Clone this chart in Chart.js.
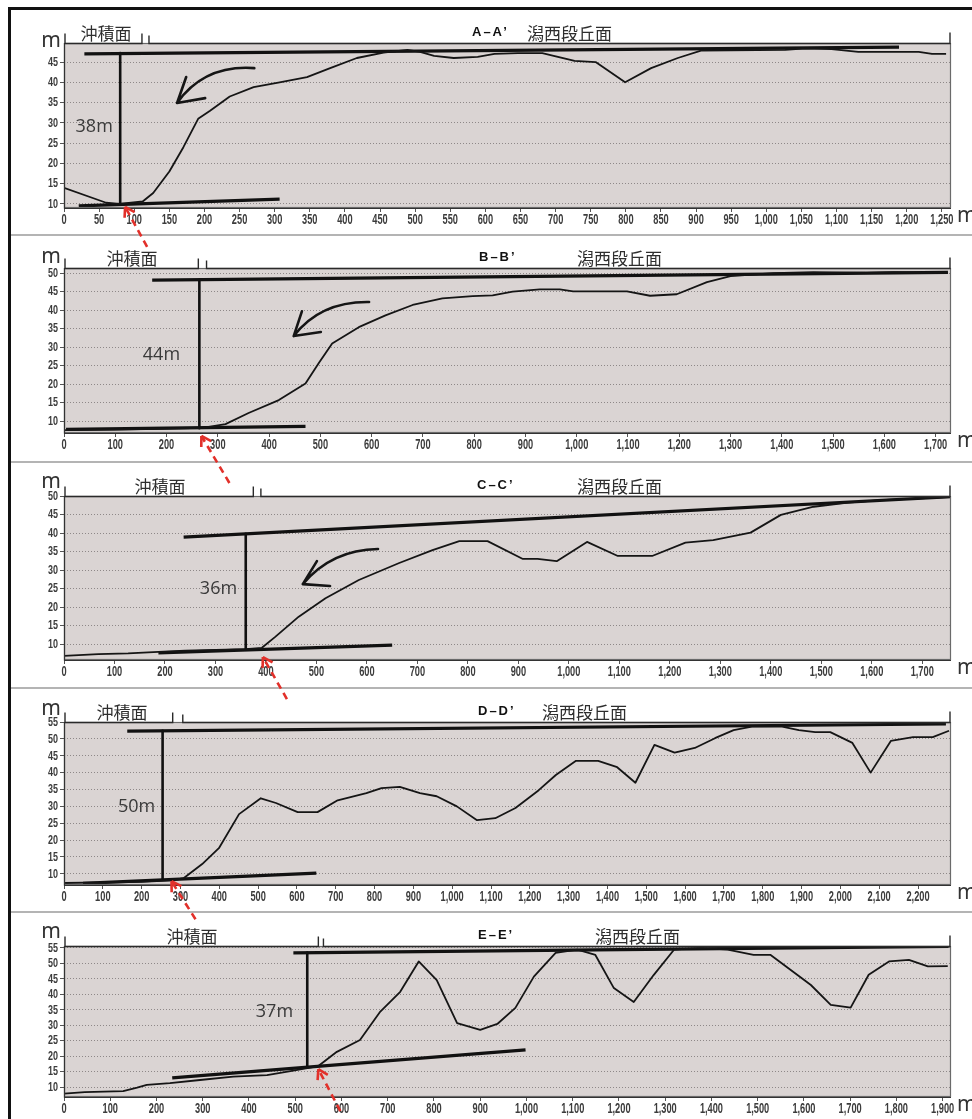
<!DOCTYPE html>
<html>
<head>
<meta charset="utf-8">
<script src="https://cdn.jsdelivr.net/npm/chart.js@4.4.1/dist/chart.umd.min.js"></script>
<style>
  body { margin: 0; background: #fff; }
  #fig { position: relative; width: 972px; height: 1119px; overflow: hidden; background: #fff; }
  .frame { position: absolute; left: 8px; top: 7px; width: 980px; height: 1130px; border-left: 3px solid #111; border-top: 3px solid #111; }
  .panel { position: absolute; left: 11px; }
  .sep { position: absolute; left: 11px; width: 961px; height: 2px; background: #b4b4b4; }
  #overlay { position: absolute; left: 0; top: 0; pointer-events: none; }
</style>
</head>
<body>
<div id="fig">
  <div class="frame"></div>
  <canvas class="panel" id="cA" width="961" height="224" style="top:10px"></canvas>
  <div class="sep" style="top:234px"></div>
  <canvas class="panel" id="cB" width="961" height="224" style="top:237px"></canvas>
  <div class="sep" style="top:461px"></div>
  <canvas class="panel" id="cC" width="961" height="223" style="top:464px"></canvas>
  <div class="sep" style="top:687px"></div>
  <canvas class="panel" id="cD" width="961" height="221" style="top:690px"></canvas>
  <div class="sep" style="top:911px"></div>
  <canvas class="panel" id="cE" width="961" height="205" style="top:914px"></canvas>
  <canvas id="overlay" width="972" height="1119"></canvas>
</div>
<script>
// 断面 A-A'
const aDist = [0, 60, 79, 112, 127, 150, 170, 191, 208, 236, 270, 307, 346, 379, 417, 455, 489, 507, 527, 555, 589, 613, 646, 681, 727, 757, 799, 836, 874, 907, 1027, 1056, 1093, 1131, 1217, 1236, 1256];
const aElev = [14, 10.3, 10, 10.6, 12.7, 18, 24, 31, 33, 36.5, 38.8, 40, 41.3, 43.5, 46, 47.3, 48, 47.5, 46.5, 46, 46.3, 47, 47.2, 47.2, 45.3, 45, 40, 43.5, 46, 47.8, 48, 48.4, 48.2, 47.5, 47.5, 47, 47];
const aTerraceX = [29, 1189], aTerraceY = [47, 48.7];
const aFloorX = [21, 307], aFloorY = [9.5, 11.2];
const aReliefX = [80, 80], aReliefY = [47.2, 10];

// 断面 B-B'
const bDist = [0, 100, 200, 270, 315, 360, 419, 471, 497, 523, 575, 627, 680, 738, 797, 836, 875, 928, 967, 993, 1098, 1143, 1195, 1254, 1300, 1384, 1462, 1567, 1618, 1724];
const bElev = [7.6, 7.7, 8, 8.2, 9.2, 12.2, 15.7, 20.2, 25.7, 31, 35.4, 38.6, 41.4, 43.2, 43.8, 44, 45, 45.6, 45.6, 45.1, 45.1, 43.9, 44.3, 47.6, 49.2, 50, 50.3, 50.1, 50.3, 50.1];
const bTerraceX = [172, 1724], bTerraceY = [48.1, 50.2];
const bFloorX = [4, 471], bFloorY = [7.8, 8.6];
const bReliefX = [264, 264], bReliefY = [48.2, 8.1];

// 断面 C-C'
const cDist = [0, 68, 127, 187, 240, 300, 360, 392, 419, 465, 518, 584, 664, 730, 783, 839, 909, 938, 976, 1036, 1097, 1165, 1231, 1286, 1360, 1420, 1485, 1553, 1618, 1751];
const cElev = [6.8, 7.3, 7.5, 7.9, 8.2, 8.4, 8.6, 9, 12, 17.4, 22.4, 27.3, 31.9, 35.4, 37.8, 37.8, 33, 33, 32.4, 37.6, 33.8, 33.8, 37.4, 38.1, 40.1, 44.9, 47.1, 48.2, 48.9, 49.7];
const cTerraceX = [237, 1757], cTerraceY = [38.9, 49.8];
const cFloorX = [187, 650], cFloorY = [7.6, 9.7];
const cReliefX = [360, 360], cReliefY = [39.8, 8.5];

// 断面 D-D'
const dDist = [0, 200, 278, 308, 356, 399, 451, 507, 546, 602, 653, 705, 779, 818, 865, 917, 960, 1012, 1064, 1111, 1163, 1223, 1267, 1319, 1376, 1425, 1472, 1521, 1573, 1625, 1677, 1725, 1772, 1850, 1893, 1935, 1974, 2031, 2078, 2130, 2187, 2238, 2280];
const dElev = [7.3, 7.6, 8.1, 8.7, 12.9, 17.6, 27.7, 32.4, 31, 28.3, 28.3, 31.8, 33.9, 35.4, 35.8, 33.9, 33, 30, 25.9, 26.5, 29.5, 34.8, 39.3, 43.5, 43.5, 41.6, 37, 48.2, 45.9, 47.3, 50.2, 52.6, 53.6, 53.6, 52.6, 52, 52, 48.8, 40, 49.4, 50.5, 50.5, 52.4];
const dTerraceX = [163, 2272], dTerraceY = [52.3, 54.4];
const dFloorX = [49, 650], dFloorY = [7.2, 10.2];
const dReliefX = [254, 254], dReliefY = [52.4, 8.4];

// 断面 E-E'
const eDist = [0, 45, 128, 158, 179, 229, 294, 366, 439, 496, 550, 590, 640, 684, 727, 767, 806, 850, 900, 937, 976, 1016, 1063, 1110, 1149, 1189, 1232, 1275, 1319, 1377, 1435, 1491, 1528, 1615, 1658, 1701, 1740, 1784, 1827, 1868, 1911];
const eElev = [7.9, 8.4, 8.7, 9.8, 10.7, 11.3, 12.3, 13.4, 13.9, 15.3, 16.8, 21.4, 25.2, 34.4, 40.8, 50.6, 44.6, 30.7, 28.5, 30.4, 35.6, 45.7, 53.4, 54.4, 52.7, 42, 37.5, 46.2, 54.4, 55, 54.4, 52.7, 52.7, 43, 36.6, 35.7, 46.3, 50.6, 51.1, 49, 49.1];
const eTerraceX = [496, 1913], eTerraceY = [53.4, 55.5];
const eFloorX = [234, 998], eFloorY = [13, 22];
const eReliefX = [526, 526], eReliefY = [53.5, 16.3];

// 目盛り
const yTicks45 = [10, 15, 20, 25, 30, 35, 40, 45];
const yTicks50 = [10, 15, 20, 25, 30, 35, 40, 45, 50];
const yTicks55 = [10, 15, 20, 25, 30, 35, 40, 45, 50, 55];
const reliefM = [38, 44, 36, 50, 37];
const sectionNames = ["A\u2013A\u2019", "B\u2013B\u2019", "C\u2013C\u2019", "D\u2013D\u2019", "E\u2013E\u2019"];

const zip = (xs, ys) => xs.map((x, i) => ({ x: x, y: ys[i] }));
const jp = "'Noto Sans CJK JP', 'Noto Sans', sans-serif";
const tickFont = 'bold 14px "Liberation Sans", Arial, sans-serif';

// パネルごとの配置
const panels = [
  { id: 'cA', left: 11, top: 10, dist: aDist, elev: aElev, tX: aTerraceX, tY: aTerraceY, fX: aFloorX, fY: aFloorY, rX: aReliefX, rY: aReliefY,
    xMax: 1263, xStep: 50, yMin: 9, yMax: 49.7, yTicks: yTicks45, plotTop: 33, xAxisH: 26,
    split: [111, 121], alluvX: 95, terraceTextX: 516, titleX: 461, mDy: 4, relief: 0, reliefLbl: [43, 29],
    arrow: { tail: [271, 43.5], ctrl: [200, 44.4], tip: [161, 34.9], arms: [[174, 41.3], [201, 36.1]] },
    red: { tip: [87, 9.3], vec: [22, 40] } },
  { id: 'cB', left: 11, top: 237, dist: bDist, elev: bElev, tX: bTerraceX, tY: bTerraceY, fX: bFloorX, fY: bFloorY, rX: bReliefX, rY: bReliefY,
    xMax: 1730, xStep: 100, yMin: 6.8, yMax: 51.4, yTicks: yTicks50, plotTop: 31, xAxisH: 28,
    split: [262, 278], alluvX: 121, terraceTextX: 566, titleX: 468, mDy: -5, relief: 1, reliefLbl: [190, 27.8],
    arrow: { tail: [595, 42.2], ctrl: [500, 42.4], tip: [448, 33], arms: [[464, 39.7], [501, 34.1]] },
    red: { tip: [268, 6.0], vec: [28, 47] } },
  { id: 'cC', left: 11, top: 464, dist: cDist, elev: cElev, tX: cTerraceX, tY: cTerraceY, fX: cFloorX, fY: cFloorY, rX: cReliefX, rY: cReliefY,
    xMax: 1757, xStep: 100, yMin: 5.7, yMax: 50, yTicks: yTicks50, plotTop: 32, xAxisH: 27,
    split: [375, 390], alluvX: 149, terraceTextX: 566, titleX: 466, mDy: -8, relief: 2, reliefLbl: [306, 24.9],
    arrow: { tail: [622, 35.7], ctrl: [530, 35.5], tip: [473, 26.2], arms: [[501, 32.4], [527, 25.7]] },
    red: { tip: [394, 6.5], vec: [24, 42] } },
  { id: 'cD', left: 11, top: 690, dist: dDist, elev: dElev, tX: dTerraceX, tY: dTerraceY, fX: dFloorX, fY: dFloorY, rX: dReliefX, rY: dReliefY,
    xMax: 2285, xStep: 100, yMin: 6.7, yMax: 55, yTicks: yTicks55, plotTop: 32, xAxisH: 26,
    split: [280, 306], alluvX: 111, terraceTextX: 531, titleX: 467, mDy: -7, relief: 3, reliefLbl: [187, 29.8],
    arrow: null,
    red: { tip: [277, 7.8], vec: [24, 38] } },
  { id: 'cE', left: 11, top: 914, dist: eDist, elev: eElev, tX: eTerraceX, tY: eTerraceY, fX: eFloorX, fY: eFloorY, rX: eReliefX, rY: eReliefY,
    xMax: 1918, xStep: 100, yMin: 6.8, yMax: 55.6, yTicks: yTicks55, plotTop: 32, xAxisH: 22,
    split: [550, 561], alluvX: 181, terraceTextX: 584, titleX: 467, mDy: -8, relief: 4, reliefLbl: [455, 34.3],
    arrow: null,
    red: { tip: [550, 15.8], vec: [22, 42] } }
];

function makeDecor(p, idx) {
  return {
    id: 'decor',
    beforeDraw(chart) {
      const { ctx, chartArea: a } = chart;
      ctx.save();
      ctx.fillStyle = '#dad4d3';
      ctx.fillRect(a.left, a.top, a.width, a.height);
      ctx.restore();
    },
    afterDraw(chart) {
      const { ctx, chartArea: a, scales: { x, y } } = chart;
      ctx.save();
      // 枠
      ctx.strokeStyle = '#6a6a6a';
      ctx.lineWidth = 1.2;
      ctx.strokeRect(a.left + 0.5, a.top + 0.5, a.width - 1, a.height - 1);
      ctx.strokeStyle = '#333';
      ctx.beginPath();
      ctx.moveTo(a.left + 0.5, a.top); ctx.lineTo(a.left + 0.5, a.bottom + 0.5); ctx.lineTo(a.right, a.bottom + 0.5);
      ctx.stroke();

      // 目盛りラベル（細い字体の代わりに横方向に縮める）
      ctx.fillStyle = '#3c3c3c';
      ctx.font = tickFont;
      ctx.textAlign = 'center';
      ctx.textBaseline = 'top';
      x.ticks.forEach(tk => {
        ctx.save();
        ctx.translate(x.getPixelForValue(tk.value), a.bottom + 5);
        ctx.scale(0.66, 1);
        ctx.fillText(tk.value.toLocaleString('en-US'), 0, 0);
        ctx.restore();
      });
      ctx.font = 'bold 12px "Liberation Sans", Arial, sans-serif';
      ctx.textAlign = 'right';
      ctx.textBaseline = 'middle';
      y.ticks.forEach(tk => {
        ctx.save();
        ctx.translate(a.left - 6, y.getPixelForValue(tk.value) + 0.5);
        ctx.scale(0.75, 1);
        ctx.fillText(String(tk.value), 0, 0);
        ctx.restore();
      });

      // 上部の範囲括弧
      const s0 = x.getPixelForValue(p.split[0]), s1 = x.getPixelForValue(p.split[1]);
      const t = a.top + 0.5;
      ctx.strokeStyle = '#2a2a2a';
      ctx.lineWidth = 1.4;
      ctx.beginPath();
      ctx.moveTo(a.left + 1, t - 10); ctx.lineTo(a.left + 1, t); ctx.lineTo(s0, t); ctx.lineTo(s0, t - 10);
      ctx.moveTo(s1, t - 8); ctx.lineTo(s1, t); ctx.lineTo(a.right - 1, t); ctx.lineTo(a.right - 1, t - 11);
      ctx.stroke();

      ctx.fillStyle = '#2e2e2e';
      ctx.textBaseline = 'alphabetic';
      ctx.font = '17px ' + jp;
      ctx.textAlign = 'center';
      ctx.fillText('沖積面', p.alluvX, a.top - 3);
      ctx.textAlign = 'left';
      ctx.fillText('潟西段丘面', p.terraceTextX, a.top - 3);
      ctx.fillStyle = '#111';
      ctx.font = 'bold 13px "Liberation Sans", Arial, sans-serif';
      ctx.letterSpacing = '2px';
      ctx.fillText(sectionNames[idx], p.titleX, a.top - 7);
      ctx.letterSpacing = '0px';

      // 単位
      ctx.font = '21px "Noto Sans", sans-serif';
      ctx.fillStyle = '#333';
      ctx.textAlign = 'center';
      ctx.fillText('m', 40, a.top + p.mDy);
      ctx.textAlign = 'left';
      ctx.fillText('m', 946, a.bottom + 14);

      // 比高
      ctx.font = '18px "Open Sans", "Noto Sans", sans-serif';
      ctx.fillStyle = '#3a3a3a';
      ctx.textAlign = 'center';
      ctx.textBaseline = 'middle';
      ctx.fillText(reliefM[p.relief] + 'm', x.getPixelForValue(p.reliefLbl[0]), y.getPixelForValue(p.reliefLbl[1]));

      // 斜面の矢印
      if (p.arrow) {
        const P = v => [x.getPixelForValue(v[0]), y.getPixelForValue(v[1])];
        const tl = P(p.arrow.tail), c = P(p.arrow.ctrl), tp = P(p.arrow.tip);
        ctx.strokeStyle = '#151515';
        ctx.lineWidth = 2.6;
        ctx.lineCap = 'round';
        ctx.lineJoin = 'round';
        ctx.beginPath();
        ctx.moveTo(tl[0], tl[1]);
        ctx.quadraticCurveTo(c[0], c[1], tp[0], tp[1]);
        p.arrow.arms.forEach(m => { const q = P(m); ctx.moveTo(tp[0], tp[1]); ctx.lineTo(q[0], q[1]); });
        ctx.stroke();
      }
      ctx.restore();
    }
  };
}

const charts = panels.map((p, idx) => new Chart(document.getElementById(p.id), {
  type: 'line',
  data: {
    datasets: [
      { data: zip(p.dist, p.elev), borderColor: '#151515', borderWidth: 1.8 },
      { data: zip(p.tX, p.tY), borderColor: '#111', borderWidth: 3.2 },
      { data: zip(p.fX, p.fY), borderColor: '#111', borderWidth: 3.2 },
      { data: zip(p.rX, p.rY), borderColor: '#111', borderWidth: 2.6 }
    ]
  },
  options: {
    responsive: false,
    animation: false,
    events: [],
    layout: { padding: { top: p.plotTop, right: 21, left: 0, bottom: 0 } },
    elements: { point: { radius: 0 }, line: { tension: 0, borderJoinStyle: 'round' } },
    plugins: { legend: { display: false }, tooltip: { enabled: false } },
    scales: {
      x: {
        type: 'linear', min: 0, max: p.xMax,
        afterFit(s) { s.height = p.xAxisH; },
        grid: { drawOnChartArea: false, tickLength: 4, tickColor: '#555' },
        border: { display: false },
        ticks: { display: false, stepSize: p.xStep, includeBounds: false, maxRotation: 0, autoSkip: false }
      },
      y: {
        min: p.yMin, max: p.yMax,
        afterFit(s) { s.width = 53; },
        afterBuildTicks(s) { s.ticks = p.yTicks.map(v => ({ value: v })); },
        grid: { color: '#8e8888', lineWidth: 1, tickLength: 4, tickColor: '#555' },
        border: { display: false, dash: [1, 2] },
        ticks: { display: false, autoSkip: false }
      }
    }
  },
  plugins: [makeDecor(p, idx)]
}));

// 赤い破線矢印（パネルをまたぐので重ね描き）
const ov = document.getElementById('overlay').getContext('2d');
ov.strokeStyle = '#e2302a';
ov.lineWidth = 2.6;
charts.forEach((ch, i) => {
  const p = panels[i];
  const tx = ch.scales.x.getPixelForValue(p.red.tip[0]) + p.left;
  const ty = ch.scales.y.getPixelForValue(p.red.tip[1]) + p.top;
  const ex = tx + p.red.vec[0], ey = ty + p.red.vec[1];
  const ang = Math.atan2(ty - ey, tx - ex);
  ov.setLineDash([7, 5]);
  ov.beginPath();
  ov.moveTo(ex, ey);
  ov.lineTo(tx, ty);
  ov.stroke();
  ov.setLineDash([]);
  ov.beginPath();
  [-0.55, 0.55].forEach(d => {
    ov.moveTo(tx, ty);
    ov.lineTo(tx - 11 * Math.cos(ang + d), ty - 11 * Math.sin(ang + d));
  });
  ov.stroke();
});
</script>
</body>
</html>
